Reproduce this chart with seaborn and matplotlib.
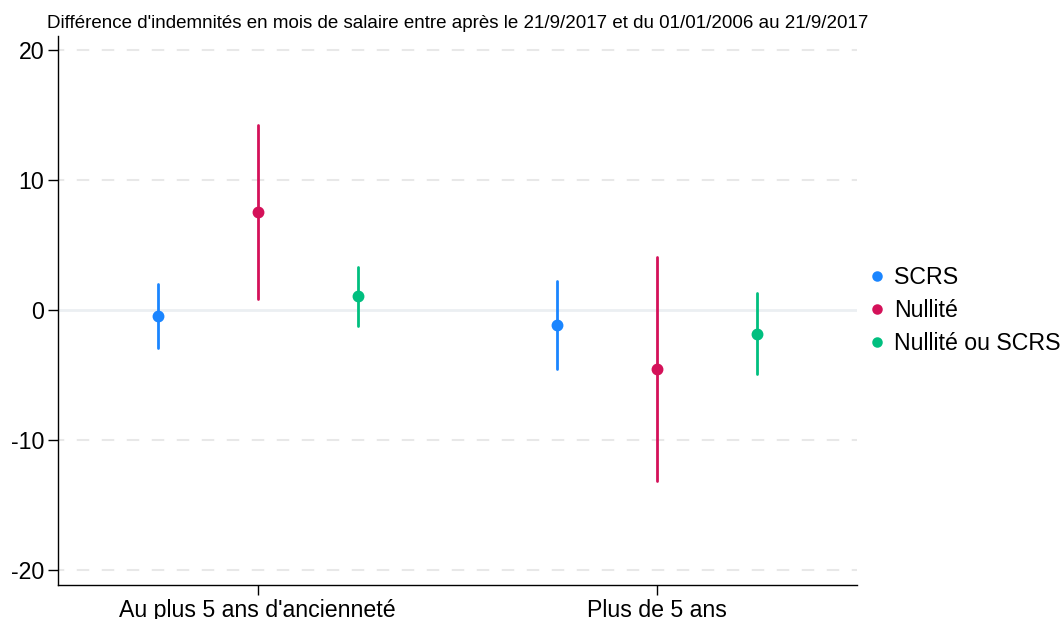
import numpy as np
import pandas as pd
import seaborn as sns
import matplotlib
matplotlib.use("Agg")
import matplotlib.pyplot as plt

# Data
groups = ["Au plus 5 ans d'ancienneté", "Plus de 5 ans"]
series = ["SCRS", "Nullité", "Nullité ou SCRS"]
estimate = {"SCRS": [-0.46, -1.15], "Nullité": [7.55, -4.55], "Nullité ou SCRS": [1.08, -1.80]}
ci_low = {"SCRS": [-2.90, -4.50], "Nullité": [0.85, -13.15], "Nullité ou SCRS": [-1.20, -4.88]}
ci_high = {"SCRS": [2.00, 2.23], "Nullité": [14.23, 4.08], "Nullité ou SCRS": [3.33, 1.31]}
yticks = [-20, -10, 0, 10, 20]
colors = ["#1a85ff", "#d41159", "#00bf7f"]
title = "Différence d'indemnités en mois de salaire entre après le 21/9/2017 et du 01/01/2006 au 21/9/2017"

rows = []
for s in series:
    for i, g in enumerate(groups):
        for v in (ci_low[s][i], estimate[s][i], ci_high[s][i]):
            rows.append({"group": g, "series": s, "value": v})
df = pd.DataFrame(rows)

sns.set_theme(style="white")
plt.rcParams["font.family"] = ["Liberation Sans", "DejaVu Sans"]
for k in ["text.color", "axes.labelcolor", "xtick.color", "ytick.color"]:
    plt.rcParams[k] = "black"

fig = plt.figure(figsize=(10.64, 6.19), dpi=100)
ax_w = (857 - 58) / 1064
ax = fig.add_axes([58 / 1064, 34 / 619, ax_w, (585 - 36) / 619])

sns.pointplot(data=df, x="group", y="value", hue="series", order=groups, hue_order=series,
              palette=colors, estimator=np.median,
              errorbar=lambda x: (np.min(x), np.max(x)),
              dodge=0.5, linestyle="none", markers="o", markersize=6.5,
              err_kws={"linewidth": 2}, ax=ax)

ax.set_xlim(-0.5, 1.5)
ax.set_ylim(-21.15, 21.1)
ax.set_yticks(yticks)
ax.set_yticklabels([str(t) for t in yticks])
ax.set_xlabel("")
ax.set_ylabel("")

for t in yticks:
    if t == 0:
        ax.axhline(t, color="#ebeff2", lw=2, zorder=0)
    else:
        ax.axhline(t, color="#e8e8e8", lw=1.5, ls=(3, (6, 6)), zorder=0)

for sp in ["top", "right"]:
    ax.spines[sp].set_visible(False)
for sp in ["left", "bottom"]:
    ax.spines[sp].set_color("black")
    ax.spines[sp].set_linewidth(1.0)

ax.tick_params(axis="both", which="both", direction="out", length=7, width=1,
               color="black", labelcolor="black", labelsize=16.7, left=True, bottom=True, pad=3)

fig.text(47 / 1064, 1 - 28 / 619, title, fontsize=13.5, ha="left", va="baseline", color="black")

h, l = ax.get_legend_handles_labels()
leg = ax.legend(h, l, loc="center left", bbox_to_anchor=(0.993, 0.5), frameon=False,
                fontsize=16.7, handletextpad=0.35, handlelength=0.8, labelspacing=0.435,
                borderaxespad=0.3, markerscale=0.85)
for t in leg.get_texts():
    t.set_color("black")

fig.savefig("out.png", dpi=100)
